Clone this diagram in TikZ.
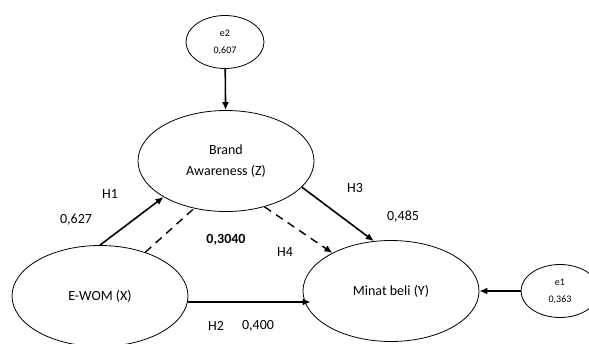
\documentclass[tikz,border=0pt]{standalone}
\usepackage{fontspec}
\setmainfont{Carlito}
\usetikzlibrary{shapes, arrows.meta, positioning, calc}
\definecolor{lineBlack}{HTML}{000000}
\tikzset{
    varEllipse/.style={ellipse, draw=lineBlack, line width=0.8pt, minimum width=176pt, minimum height=101pt, align=center, font=\fontsize{14}{21}\selectfont},
    errEllipse/.style={ellipse, draw=lineBlack, line width=0.8pt, minimum width=78pt, minimum height=53pt, align=center, font=\fontsize{10}{17}\selectfont},
    pathArrow/.style={line width=1.6pt, -{Latex[length=8pt,width=7pt]}},
    dashLine/.style={line width=1.4pt, dash pattern=on 8pt off 6pt},
    coefLabel/.style={font=\fontsize{14}{17}\selectfont}
}

\begin{document}
\begin{tikzpicture}[x=1pt, y=-1pt]
        \useasboundingbox (0,0) rectangle (589,343);

        % Latent variables
        \node[varEllipse] (brand) at (226,161) {Brand\\Awareness (Z)};
        \node[varEllipse] (ewom) at (100,296) {E-WOM (X)};
        \node[varEllipse] (minat) at (391,291) {Minat beli (Y)};

        % Error terms
        \node[errEllipse] (e2) at (225,42) {e2\\0,607};
        \node[errEllipse] (e1) at (560,291) {e1\\0,363};

        % Paths
        \draw[pathArrow] (e2) -- (brand);
        \draw[pathArrow] (e1) -- (minat);
        \draw[pathArrow] (ewom.north) -- (brand.210);
        \draw[pathArrow] (brand.-19) -- (minat.109);
        \draw[pathArrow] ([yshift=-6pt]ewom.east) -- ([xshift=8pt,yshift=-11pt]minat.west);
        \draw[dashLine] (ewom.44) -- (brand.236);
        \draw[dashLine, -{Latex[length=8pt,width=7pt]}] (brand.-50) -- (minat.147);

        % Coefficients
        \node[coefLabel] (hOne) at (110,194) {H1};
        \node[coefLabel] (cOne) at (76,220) {0,627};
        \node[coefLabel, font=\fontsize{14}{17}\selectfont\bfseries] (cInd) at (226,240) {0,3040};
        \node[coefLabel] (hFour) at (285,252) {H4};
        \node[coefLabel] (hThree) at (355,188) {H3};
        \node[coefLabel] (cThree) at (403,217) {0,485};
        \node[coefLabel] (hTwo) at (216,326) {H2};
        \node[coefLabel] (cTwo) at (258,326) {0,400};
    \end{tikzpicture}
\end{document}
